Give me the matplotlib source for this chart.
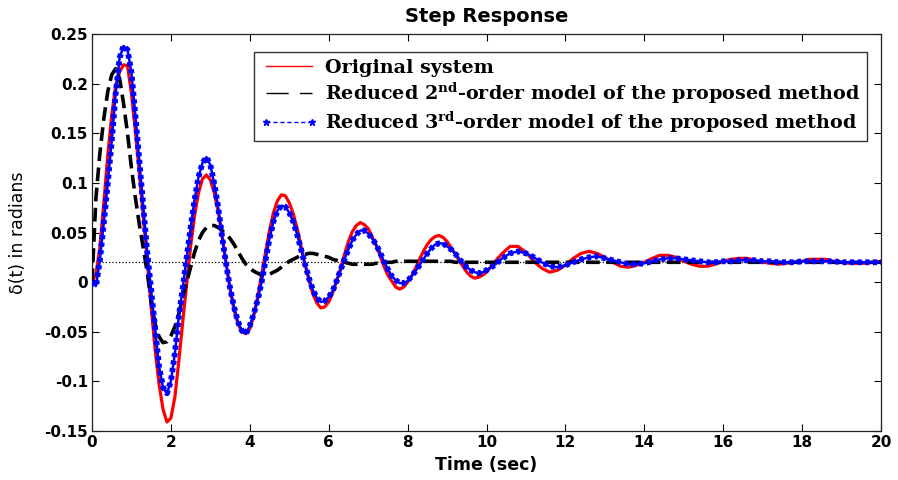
import numpy as np
import matplotlib
matplotlib.use("Agg")
import matplotlib.pyplot as plt
from matplotlib.lines import Line2D

plt.rcParams['mathtext.fontset'] = 'dejavuserif'

# sample times: 0.1 s steps up to 10 s, then 0.2 s steps up to 20 s
t = np.concatenate([np.arange(0, 101) * 0.1, 10 + np.arange(1, 51) * 0.2])

original = [
    0.000, 0.008, 0.035, 0.080, 0.128, 0.168, 0.198, 0.212, 0.219, 0.218,
    0.190, 0.152, 0.110, 0.066, 0.022, -0.025, -0.068, -0.103, -0.128, -0.141,
    -0.137, -0.116, -0.080, -0.040, -0.002, 0.036, 0.067, 0.090, 0.104, 0.108,
    0.103, 0.090, 0.071, 0.046, 0.019, -0.007, -0.028, -0.042, -0.050, -0.052,
    -0.047, -0.034, -0.015, 0.007, 0.030, 0.052, 0.070, 0.082, 0.088, 0.087,
    0.080, 0.069, 0.054, 0.036, 0.018, 0.002, -0.012, -0.021, -0.026, -0.025,
    -0.020, -0.011, 0.001, 0.014, 0.028, 0.041, 0.051, 0.057, 0.060, 0.058,
    0.054, 0.046, 0.037, 0.027, 0.016, 0.007, 0.001, -0.005, -0.007, -0.005,
    0.000, 0.006, 0.014, 0.023, 0.031, 0.038, 0.043, 0.046, 0.047, 0.045,
    0.041, 0.035, 0.029, 0.022, 0.016, 0.010, 0.006, 0.004, 0.005, 0.007,
    0.010,
    0.020, 0.029, 0.036, 0.036, 0.030, 0.021, 0.014, 0.010, 0.012, 0.017,
    0.024, 0.029, 0.031, 0.029, 0.025, 0.020, 0.016, 0.015, 0.017, 0.020,
    0.024, 0.027, 0.027, 0.025, 0.021, 0.018, 0.016, 0.016, 0.018, 0.021,
    0.023, 0.024, 0.024, 0.022, 0.020, 0.019, 0.018, 0.019, 0.020, 0.021,
    0.023, 0.023, 0.023, 0.021, 0.020, 0.019, 0.019, 0.019, 0.020, 0.021,
]

reduced_2nd = [
    0.000, 0.085, 0.130, 0.165, 0.192, 0.209, 0.215, 0.205, 0.180, 0.150,
    0.115, 0.085, 0.058, 0.034, 0.010, -0.020, -0.042, -0.055, -0.061, -0.060,
    -0.054, -0.045, -0.032, -0.015, 0.000, 0.015, 0.030, 0.042, 0.050, 0.055,
    0.057, 0.057, 0.055, 0.052, 0.048, 0.044, 0.038, 0.031, 0.024, 0.018,
    0.014, 0.011, 0.009, 0.007, 0.007, 0.008, 0.010, 0.012, 0.015, 0.018,
    0.021, 0.023, 0.025, 0.027, 0.028, 0.029, 0.029, 0.028, 0.027, 0.026,
    0.025, 0.023, 0.022, 0.021, 0.020, 0.019, 0.018, 0.018, 0.018, 0.018,
    0.018, 0.018, 0.019, 0.019, 0.019, 0.020, 0.020, 0.021, 0.021, 0.021,
    0.021, 0.021, 0.021, 0.021, 0.021, 0.021, 0.021, 0.021, 0.021, 0.021,
    0.021, 0.021, 0.020, 0.020, 0.020, 0.020, 0.020, 0.020, 0.020, 0.020,
    0.020,
    0.020, 0.020, 0.020, 0.020, 0.020, 0.020, 0.020, 0.020, 0.020, 0.020,
    0.020, 0.020, 0.020, 0.020, 0.020, 0.020, 0.020, 0.020, 0.020, 0.020,
    0.020, 0.020, 0.020, 0.020, 0.020, 0.020, 0.020, 0.020, 0.020, 0.020,
    0.020, 0.020, 0.020, 0.020, 0.020, 0.020, 0.020, 0.020, 0.020, 0.020,
    0.020, 0.020, 0.020, 0.020, 0.020, 0.020, 0.020, 0.020, 0.020, 0.020,
]

reduced_3rd = [
    0.000, -0.004, 0.022, 0.060, 0.100, 0.142, 0.190, 0.226, 0.238, 0.234,
    0.211, 0.168, 0.122, 0.075, 0.030, -0.008, -0.045, -0.085, -0.106, -0.112,
    -0.100, -0.072, -0.035, -0.006, 0.025, 0.055, 0.083, 0.106, 0.120, 0.126,
    0.118, 0.099, 0.075, 0.045, 0.018, -0.006, -0.025, -0.040, -0.049, -0.052,
    -0.044, -0.032, -0.018, 0.000, 0.022, 0.044, 0.061, 0.072, 0.077, 0.076,
    0.070, 0.061, 0.048, 0.033, 0.018, 0.004, -0.008, -0.016, -0.020, -0.019,
    -0.015, -0.009, 0.001, 0.012, 0.023, 0.033, 0.042, 0.048, 0.052, 0.052,
    0.049, 0.044, 0.038, 0.030, 0.021, 0.013, 0.006, 0.002, -0.001, -0.001,
    0.001, 0.006, 0.011, 0.017, 0.023, 0.029, 0.034, 0.038, 0.039, 0.039,
    0.036, 0.033, 0.029, 0.024, 0.019, 0.015, 0.012, 0.010, 0.009, 0.010,
    0.012,
    0.017, 0.024, 0.029, 0.031, 0.029, 0.025, 0.020, 0.016, 0.015, 0.017,
    0.020, 0.023, 0.025, 0.026, 0.024, 0.022, 0.020, 0.018, 0.018, 0.019,
    0.021, 0.023, 0.024, 0.024, 0.023, 0.022, 0.021, 0.020, 0.020, 0.021,
    0.021, 0.022, 0.022, 0.022, 0.021, 0.021, 0.020, 0.020, 0.020, 0.021,
    0.021, 0.021, 0.021, 0.021, 0.020, 0.020, 0.020, 0.020, 0.020, 0.020,
]

steady_state = 0.02

labels = [
    'Original system',
    r'Reduced 2$^{\mathbf{nd}}$-order model of the proposed method',
    r'Reduced 3$^{\mathbf{rd}}$-order model of the proposed method',
]

xticks = [0, 2, 4, 6, 8, 10, 12, 14, 16, 18, 20]
yticks = [-0.15, -0.1, -0.05, 0, 0.05, 0.1, 0.15, 0.2, 0.25]
ytick_labels = ['-0.15', '-0.1', '-0.05', '0', '0.05', '0.1', '0.15', '0.2', '0.25']

fig = plt.figure(figsize=(8.98, 4.8), dpi=100)
ax = fig.add_axes([92 / 898, 1 - 431 / 480, 789 / 898, 397 / 480])

ax.axhline(steady_state, color='k', ls=':', lw=0.9, zorder=1)
ax.plot(t, original, color='#ff0000', lw=2.3, zorder=2)
ax.plot(t, reduced_2nd, color='k', lw=2.6, ls=(0, (3.8, 1.8)), zorder=3)
ax.plot(t, reduced_3rd, color='#0000ff', lw=1.8, zorder=4)
ax.plot(t, reduced_3rd, color='#0000ff', lw=4.2, ls=(0, (0.7, 0.6)), zorder=4)

ax.set_xlim(0, 20)
ax.set_ylim(-0.15, 0.25)
ax.set_xticks(xticks)
ax.set_xticklabels([str(x) for x in xticks])
ax.set_yticks(yticks)
ax.set_yticklabels(ytick_labels)
ax.tick_params(direction='in', top=True, right=True, length=5, width=0.8,
               labelsize=11, pad=3)
for lab in ax.get_xticklabels() + ax.get_yticklabels():
    lab.set_fontweight('bold')
for sp in ax.spines.values():
    sp.set_linewidth(0.9)
    sp.set_color('#222222')

ax.set_title('Step Response', fontsize=14, fontweight='bold', pad=9)
ax.set_xlabel('Time (sec)', fontsize=12.5, fontweight='bold', labelpad=4)
ax.set_ylabel('δ(t) in radians', fontsize=12.5, labelpad=12)

handles = [
    Line2D([], [], color='#ff0000', lw=1.0),
    Line2D([], [], color='k', lw=1.0, ls=(0, (16, 8))),
    Line2D([], [], color='#0000ff', lw=1.0, ls=(0, (3, 2)), marker='*', ms=5),
]
leg = ax.legend(handles, labels, loc='upper left',
                bbox_to_anchor=((254 - 92) / 789, (431 - 52) / 397),
                borderaxespad=0, numpoints=2, handlelength=3.0,
                handletextpad=0.35, borderpad=0.35, labelspacing=0.2,
                fancybox=False, framealpha=1, edgecolor='#333333',
                prop={'family': 'DejaVu Serif', 'weight': 'bold', 'size': 13.8})
leg.get_frame().set_linewidth(1.0)

fig.savefig('out.png', dpi=100)
